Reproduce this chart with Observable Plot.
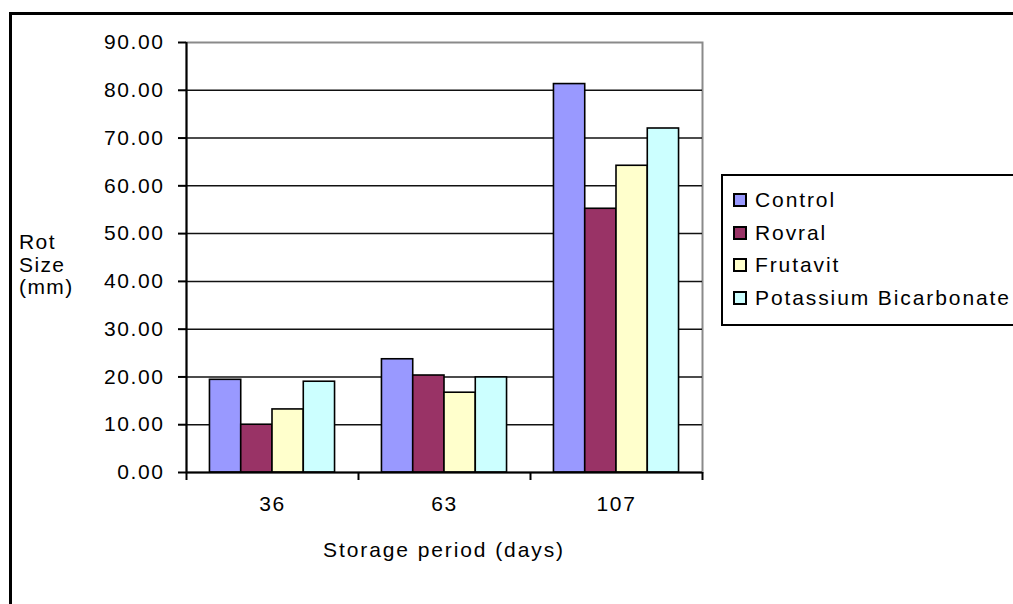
<!DOCTYPE html>
<html>
<head>
<meta charset="utf-8">
<script src="https://cdn.jsdelivr.net/npm/d3@7"></script>
<script src="https://cdn.jsdelivr.net/npm/@observablehq/plot@0.6"></script>
<style>
  html, body { margin: 0; padding: 0; background: #fff; }
  body { width: 1013px; height: 604px; overflow: hidden; position: relative;
         font-family: "Liberation Sans", Arial, sans-serif; color: #000; }
  #frame { position: absolute; left: 9px; top: 12px; width: 1100px; height: 700px;
           border-left: 3px solid #000; border-top: 3px solid #000; box-sizing: border-box; }
  #chart { position: absolute; left: 0; top: 0; }
  #ylabel { position: absolute; left: 19px; top: 231px; font-size: 21px; line-height: 22.5px; letter-spacing: 1.4px; }
  #xlabel { position: absolute; left: 244px; width: 400px; top: 538px; text-align: center; font-size: 21px; line-height: 24px; letter-spacing: 1.9px; }
  #legend { position: absolute; left: 721px; top: 174px; width: 400px; height: 152px;
            border: 2px solid #000; box-sizing: border-box; background: #fff;
            display: flex; flex-direction: column; justify-content: center; padding-bottom: 2px; }
  .row { height: 32.5px; display: flex; align-items: center; font-size: 21px; letter-spacing: 1.9px; white-space: nowrap; }
  .sw { width: 10px; height: 10px; border: 2px solid #000; margin-left: 10px; margin-right: 8px; flex: none; }
</style>
</head>
<body>
<div id="frame"></div>
<div id="chart"></div>
<div id="ylabel">Rot<br>Size<br>(mm)</div>
<div id="xlabel">Storage period (days)</div>
<div id="legend"></div>
<script>
// ---- data ----
const periods = ["36", "63", "107"];
const treatments = ["Control", "Rovral", "Frutavit", "Potassium Bicarbonate"];
const control   = [19.4, 23.7, 81.3];
const rovral    = [10.0, 20.3, 55.2];
const frutavit  = [13.2, 16.7, 64.2];
const potassium = [19.0, 19.9, 72.0];
const colors = ["#9999FF", "#993366", "#FFFFCC", "#CCFFFF"];
const yTicks = [0, 10, 20, 30, 40, 50, 60, 70, 80, 90];

// ---- table ----
const series = [control, rovral, frutavit, potassium];
const gap = 1.5; // Excel gap width 150%
const bw = 1 / (treatments.length + gap);
const rows = periods.flatMap((p, i) => treatments.map((t, j) => ({
  period: p, i, j, treatment: t, value: series[j][i]
})));
const boundaries = d3.range(periods.length + 1);
const centers = periods.map((p, i) => i + 0.5);

const chart = Plot.plot({
  width: 1013,
  height: 604,
  marginLeft: 186,
  marginRight: 311,
  marginTop: 42,
  marginBottom: 132,
  style: { background: "transparent", fontFamily: "Liberation Sans, Arial, sans-serif", fontSize: "21px", letterSpacing: "1.6px", color: "#000" },
  x: { type: "linear", domain: [0, periods.length], axis: null },
  y: { domain: [0, 90], axis: null },
  color: { domain: treatments, range: colors },
  marks: [
    Plot.frame({ stroke: "#8a8a8a", strokeWidth: 2 }),
    Plot.gridY(yTicks.filter(d => d > 0 && d < 90), { stroke: "#111", strokeOpacity: 1, strokeWidth: 1.5 }),
    Plot.rect(rows, {
      x1: d => d.i + (gap / 2 + d.j) * bw,
      x2: d => d.i + (gap / 2 + d.j + 1) * bw,
      y1: 0,
      y2: "value",
      fill: "treatment",
      stroke: "#000",
      strokeWidth: 1.6
    }),
    Plot.ruleX([0], { stroke: "#000", strokeWidth: 2 }),
    Plot.ruleY([0], { stroke: "#000", strokeWidth: 2 }),
    Plot.axisY(yTicks, { label: null, tickSize: 8, tickPadding: 14, tickFormat: d => d.toFixed(2), stroke: "#000", strokeWidth: 2, fontSize: 21 }),
    Plot.axisX(boundaries, { label: null, tickSize: 8, tickFormat: () => "", stroke: "#000", strokeWidth: 2 }),
    Plot.axisX(centers, { label: null, tickSize: 0, tickPadding: 24, tickFormat: d => periods[Math.floor(d)], fontSize: 21 })
  ]
});
document.getElementById("chart").appendChild(chart);

// ---- legend ----
const legend = document.getElementById("legend");
treatments.forEach((t, k) => {
  const row = document.createElement("div");
  row.className = "row";
  const sw = document.createElement("span");
  sw.className = "sw";
  sw.style.background = colors[k];
  const label = document.createElement("span");
  label.textContent = t;
  row.appendChild(sw);
  row.appendChild(label);
  legend.appendChild(row);
});
</script>
</body>
</html>
